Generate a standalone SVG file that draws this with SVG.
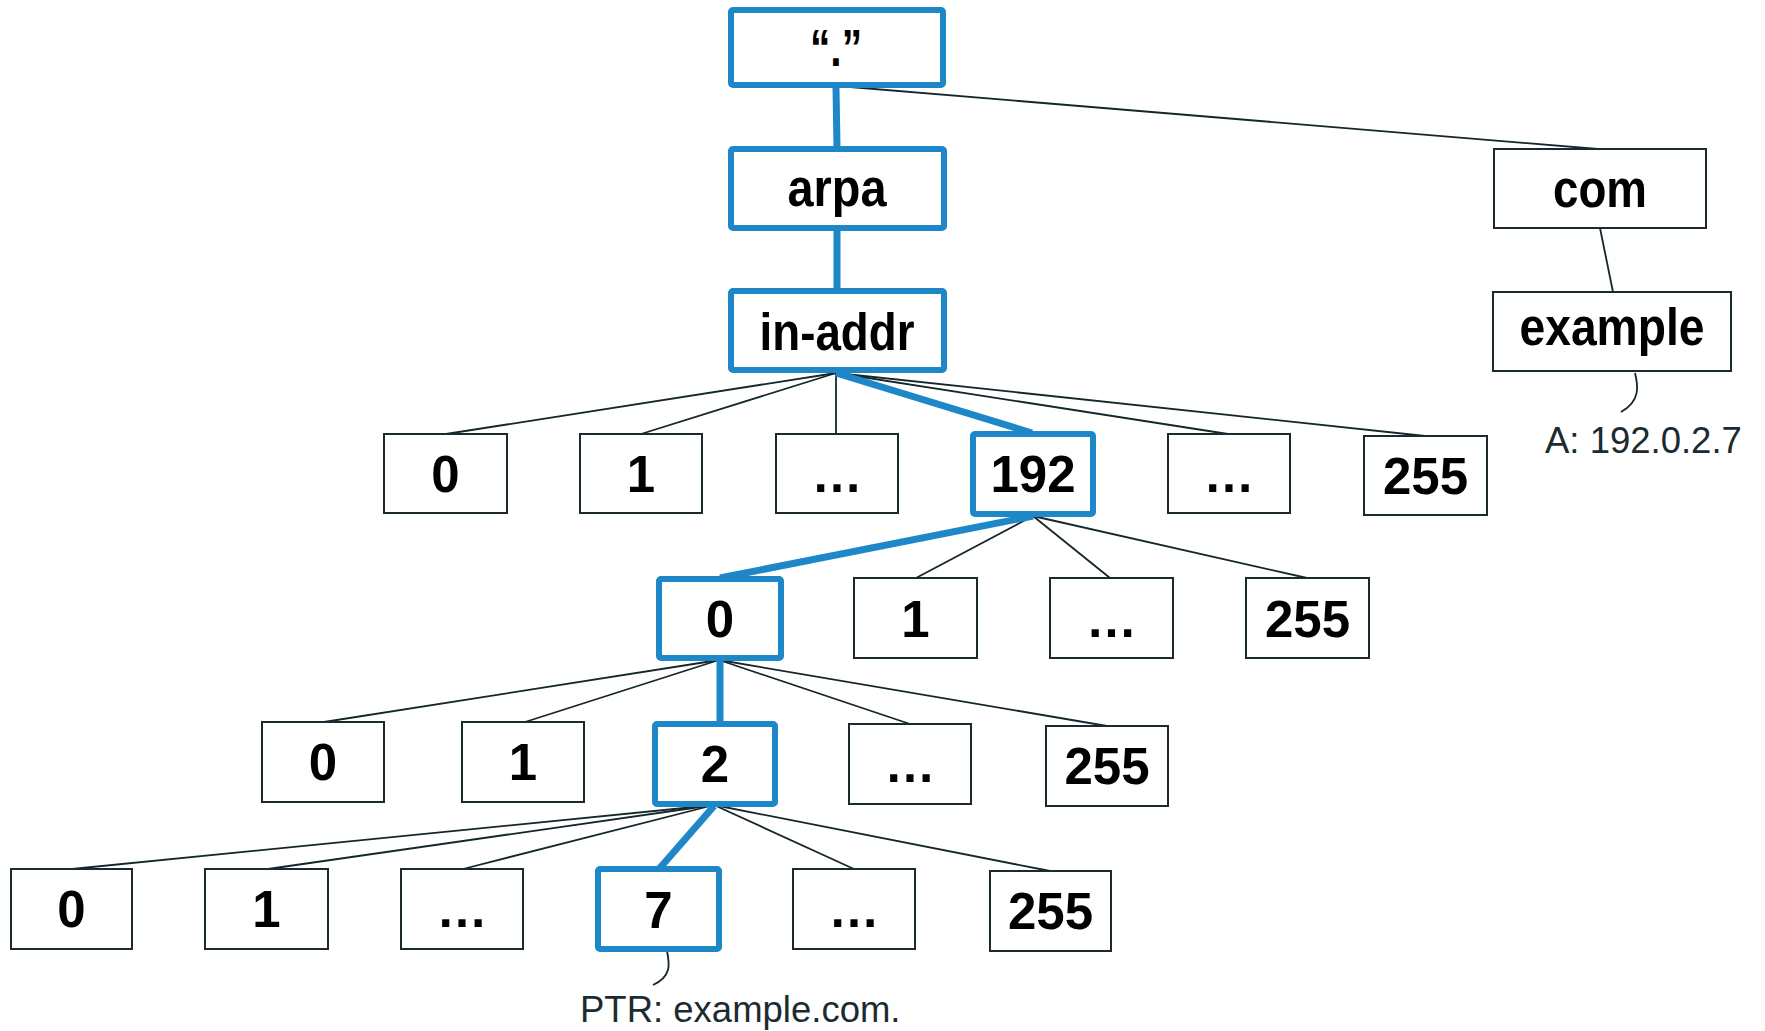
<svg xmlns="http://www.w3.org/2000/svg" width="1765" height="1031" viewBox="0 0 1765 1031">
<style>
.box{fill:#fff;stroke:#1b2a2e;stroke-width:2}
.hl{fill:#fff;stroke:#1d87c8;stroke-width:6}
.lbl{font-family:"Liberation Sans",Arial,sans-serif;font-weight:bold;font-size:51px;fill:#000;text-anchor:middle}
.note{font-family:"Liberation Sans",Arial,sans-serif;font-size:36.5px;fill:#1c2b30}
.ln{stroke:#14262a;stroke-width:1.8;fill:none}
.bl{stroke:#1d87c8;stroke-width:7;fill:none}
</style>
<rect width="1765" height="1031" fill="#fff"/>
<g id="connectors">
<line class="bl" x1="836" y1="88" x2="837" y2="147"/>
<line class="bl" x1="837" y1="231" x2="837" y2="289"/>
<line class="ln" x1="838" y1="86" x2="1598" y2="149"/>
<line class="ln" x1="1600" y1="228" x2="1613" y2="292"/>
<line class="ln" x1="836" y1="373" x2="446" y2="434"/>
<line class="ln" x1="836" y1="373" x2="641" y2="434"/>
<line class="ln" x1="836" y1="373" x2="836" y2="434"/>
<line class="ln" x1="836" y1="373" x2="1228" y2="434"/>
<line class="ln" x1="836" y1="373" x2="1425" y2="436"/>
<line class="bl" x1="836" y1="373" x2="1032" y2="433"/>
<line class="ln" x1="1033" y1="516" x2="916" y2="578"/>
<line class="ln" x1="1033" y1="516" x2="1110" y2="578"/>
<line class="ln" x1="1033" y1="516" x2="1307" y2="578"/>
<line class="bl" x1="1033" y1="516" x2="720" y2="578"/>
<line class="ln" x1="719" y1="660" x2="324" y2="722"/>
<line class="ln" x1="719" y1="660" x2="525" y2="722"/>
<line class="ln" x1="719" y1="660" x2="913" y2="725"/>
<line class="ln" x1="719" y1="660" x2="1107" y2="726"/>
<line class="bl" x1="720" y1="661" x2="720" y2="723"/>
<line class="ln" x1="714" y1="805" x2="72" y2="869"/>
<line class="ln" x1="714" y1="805" x2="268" y2="869"/>
<line class="ln" x1="714" y1="805" x2="463" y2="869"/>
<line class="ln" x1="714" y1="805" x2="854" y2="869"/>
<line class="ln" x1="714" y1="805" x2="1050" y2="871"/>
<line class="bl" x1="714" y1="806" x2="659" y2="869"/>
<path class="ln" d="M1635,373 C1638,385 1641,401 1621,412"/>
<path class="ln" d="M667,951 C669,962 673,976 653,985"/>
</g>
<g id="n-root"><rect class="hl" x="731" y="10" width="212" height="75" rx="2"/><text class="lbl" x="836" y="66" textLength="52" lengthAdjust="spacingAndGlyphs">“.”</text></g>
<g id="n-arpa"><rect class="hl" x="731" y="149" width="213" height="79" rx="2"/><text class="lbl" x="837" y="206" textLength="99" lengthAdjust="spacingAndGlyphs">arpa</text></g>
<g id="n-inaddr"><rect class="hl" x="731" y="291" width="213" height="79" rx="2"/><text class="lbl" x="837" y="350" textLength="155" lengthAdjust="spacingAndGlyphs">in-addr</text></g>
<g id="n-com"><rect class="box" x="1494" y="149" width="212" height="79"/><text class="lbl" x="1600" y="207" textLength="94" lengthAdjust="spacingAndGlyphs">com</text></g>
<g id="n-example"><rect class="box" x="1493" y="292" width="238" height="79"/><text class="lbl" x="1612" y="345" textLength="185" lengthAdjust="spacingAndGlyphs">example</text></g>
<g id="n-a-record"><text class="note" x="1545" y="453">A: 192.0.2.7</text></g>

<g id="n-r1-0"><rect class="box" x="384" y="434" width="123" height="79"/><text class="lbl" x="445.5" y="492">0</text></g>
<g id="n-r1-1"><rect class="box" x="580" y="434" width="122" height="79"/><text class="lbl" x="641" y="492">1</text></g>
<g id="n-r1-dots1"><rect class="box" x="776" y="434" width="122" height="79"/><text class="lbl" x="837" y="492">…</text></g>
<g id="n-r1-192"><rect class="hl" x="973" y="434" width="120" height="80" rx="2"/><text class="lbl" x="1033" y="492">192</text></g>
<g id="n-r1-dots2"><rect class="box" x="1168" y="434" width="122" height="79"/><text class="lbl" x="1229" y="492">…</text></g>
<g id="n-r1-255"><rect class="box" x="1364" y="436" width="123" height="79"/><text class="lbl" x="1425.5" y="494">255</text></g>

<g id="n-r2-0"><rect class="hl" x="659" y="579" width="122" height="79" rx="2"/><text class="lbl" x="720" y="637">0</text></g>
<g id="n-r2-1"><rect class="box" x="854" y="578" width="123" height="80"/><text class="lbl" x="915.5" y="637">1</text></g>
<g id="n-r2-dots"><rect class="box" x="1050" y="578" width="123" height="80"/><text class="lbl" x="1111.5" y="637">…</text></g>
<g id="n-r2-255"><rect class="box" x="1246" y="578" width="123" height="80"/><text class="lbl" x="1307.5" y="637">255</text></g>

<g id="n-r3-0"><rect class="box" x="262" y="722" width="122" height="80"/><text class="lbl" x="323" y="780">0</text></g>
<g id="n-r3-1"><rect class="box" x="462" y="722" width="122" height="80"/><text class="lbl" x="523" y="780">1</text></g>
<g id="n-r3-2"><rect class="hl" x="655" y="724" width="120" height="80" rx="2"/><text class="lbl" x="715" y="782">2</text></g>
<g id="n-r3-dots"><rect class="box" x="849" y="724" width="122" height="80"/><text class="lbl" x="910" y="782">…</text></g>
<g id="n-r3-255"><rect class="box" x="1046" y="726" width="122" height="80"/><text class="lbl" x="1107" y="784">255</text></g>

<g id="n-r4-0"><rect class="box" x="11" y="869" width="121" height="80"/><text class="lbl" x="71.5" y="927">0</text></g>
<g id="n-r4-1"><rect class="box" x="205" y="869" width="123" height="80"/><text class="lbl" x="266.5" y="927">1</text></g>
<g id="n-r4-dots1"><rect class="box" x="401" y="869" width="122" height="80"/><text class="lbl" x="462" y="927">…</text></g>
<g id="n-r4-7"><rect class="hl" x="598" y="869" width="121" height="80" rx="2"/><text class="lbl" x="658.5" y="928">7</text></g>
<g id="n-r4-dots2"><rect class="box" x="793" y="869" width="122" height="80"/><text class="lbl" x="854" y="927">…</text></g>
<g id="n-r4-255"><rect class="box" x="990" y="871" width="121" height="80"/><text class="lbl" x="1050.5" y="929">255</text></g>
<g id="n-ptr-record"><text class="note" x="580" y="1022">PTR: example.com.</text></g>
</svg>
